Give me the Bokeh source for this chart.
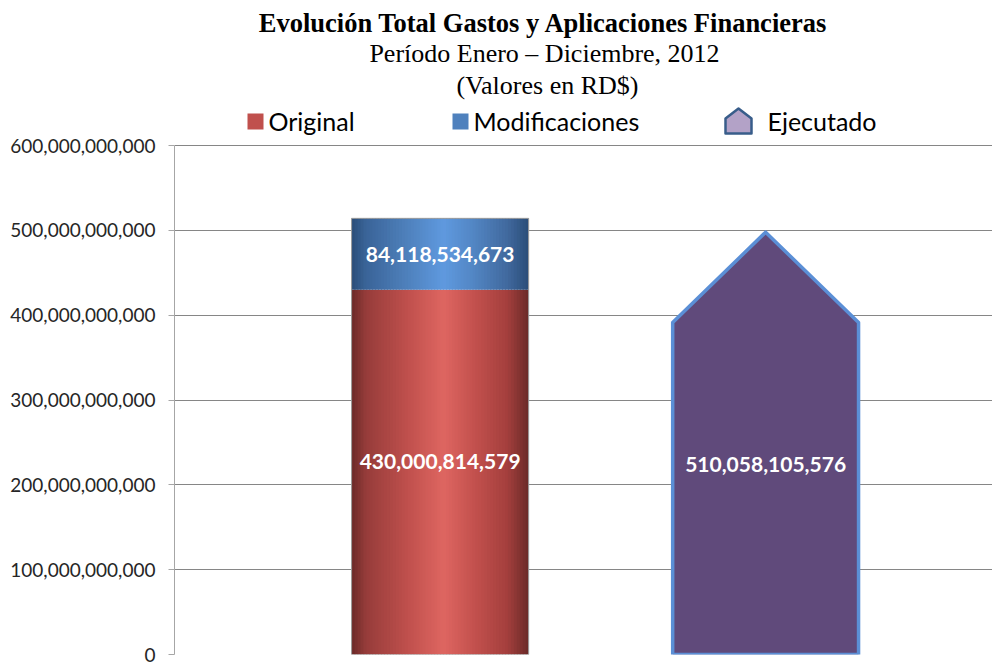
from bokeh.plotting import figure
from bokeh.models import Range1d, NumeralTickFormatter, FixedTicker, ColumnDataSource
from bokeh.core.properties import value
from bokeh.embed import file_html
from bokeh.resources import INLINE

# ---- data ----
categories = ["Presupuesto", "Ejecutado"]
original = [430000814579]
modificaciones = [84118534673]
ejecutado = [510058105576]
label_original = ["430,000,814,579"]
label_modif = ["84,118,534,673"]
label_ejec = ["510,058,105,576"]
y_ticks = [0, 100e9, 200e9, 300e9, 400e9, 500e9, 600e9]

title_lines = ["Evolución Total Gastos y Aplicaciones Financieras",
               "Período Enero – Diciembre, 2012",
               "(Valores en RD$)"]
legend_names = ["Original", "Modificaciones", "Ejecutado"]

# ---- helpers ----
def hex2rgb(h):
    h = h.lstrip("#")
    return tuple(int(h[i:i + 2], 16) for i in (0, 2, 4))

def rgb2hex(c):
    return "#%02x%02x%02x" % tuple(int(round(v)) for v in c)

def interp(stops, f):
    for (f0, c0), (f1, c1) in zip(stops[:-1], stops[1:]):
        if f0 <= f <= f1:
            t = (f - f0) / (f1 - f0) if f1 > f0 else 0
            a, b = hex2rgb(c0), hex2rgb(c1)
            return rgb2hex([a[i] + (b[i] - a[i]) * t for i in range(3)])
    return stops[-1][1]

red_stops = [(0.0, "#6a2928"), (0.08, "#963c3a"), (0.32, "#c0504d"), (0.52, "#de6661"),
             (0.68, "#c5524f"), (0.88, "#a43f3d"), (1.0, "#6a2928")]
blue_stops = [(0.0, "#2a4d78"), (0.08, "#3a6498"), (0.32, "#4f81bd"), (0.52, "#5f99df"),
              (0.68, "#5387c5"), (0.88, "#41699e"), (1.0, "#2a4d78")]

# ---- figure: frame spans the whole height, axis limited to 0..600B ----
FRAME_H = 654          # frame pixels (top border 0, bottom border 11)
AXIS_PX = 509          # pixels for 0..600B
y_top = y_ticks[-1] * FRAME_H / AXIS_PX

p = figure(width=992, height=665, x_range=Range1d(0.184, 2.697), y_range=Range1d(0, y_top),
           output_backend="svg", toolbar_location=None,
           min_border_left=174, min_border_right=0, min_border_top=0, min_border_bottom=11)
p.extra_x_ranges = {"px": Range1d(174, 992)}
p.extra_y_ranges = {"py": Range1d(FRAME_H, 0)}

p.xaxis.visible = False
p.xgrid.visible = False
p.yaxis.bounds = (y_ticks[0], y_ticks[-1])
p.yaxis.ticker = FixedTicker(ticks=y_ticks)
p.yaxis.formatter = NumeralTickFormatter(format="0,0")
p.yaxis.major_label_text_font = "Lato"
p.yaxis.major_label_text_font_size = "19px"
p.yaxis.major_label_text_color = "#262626"
p.yaxis.axis_line_color = "#a6a6a6"
p.yaxis.major_tick_line_color = "#a6a6a6"
p.yaxis.major_tick_out = 6
p.yaxis.major_tick_in = 0
p.yaxis.minor_tick_line_color = None
p.yaxis.major_label_standoff = 13
p.ygrid.grid_line_color = "#868686"
p.ygrid.ticker = FixedTicker(ticks=y_ticks)
p.outline_line_color = None

x1, x2 = 1.0, 2.0
w1, w2 = 0.544, 0.571
N = 60

def gradient_bar(xc, w, bottom, top, stops):
    lefts, rights, cols = [], [], []
    for i in range(N):
        f = (i + 0.5) / N
        lefts.append(xc - w / 2 + w * i / N)
        rights.append(xc - w / 2 + w * (i + 1) / N + (w / N * 0.3 if i < N - 1 else 0))
        cols.append(interp(stops, f))
    src = ColumnDataSource(dict(left=lefts, right=rights, bottom=[bottom] * N, top=[top] * N, c=cols))
    p.quad(left="left", right="right", bottom="bottom", top="top", fill_color="c",
           line_color=None, source=src)

o = original[0]
m = modificaciones[0]
e = ejecutado[0]
gradient_bar(x1, w1, 0, o, red_stops)
gradient_bar(x1, w1, o, o + m, blue_stops)
p.quad(left=[x1 - w1 / 2], right=[x1 + w1 / 2], bottom=[0], top=[o + m],
       fill_color=None, line_color="#9a9a9a", line_width=1)

# Ejecutado "house" shape
sh = e * 0.767
pk = e * 0.976
p.patch([x2 - w2 / 2, x2 - w2 / 2, x2, x2 + w2 / 2, x2 + w2 / 2],
        [0, sh, pk, sh, 0], fill_color="#604a7b", line_color="#5b8fd6",
        line_width=3.5, line_join="round")

lab_font = value("Lato")
p.text(x=[x1], y=[o + m / 2], text=label_modif, text_color="white", text_font=lab_font,
       text_font_size="21px", text_font_style="bold", text_align="center", text_baseline="middle")
p.text(x=[x1], y=[o * 0.528], text=label_original, text_color="white", text_font=lab_font,
       text_font_size="21px", text_font_style="bold", text_align="center", text_baseline="middle")
p.text(x=[x2], y=[e * 0.44], text=label_ejec, text_color="white", text_font=lab_font,
       text_font_size="21px", text_font_style="bold", text_align="center", text_baseline="middle")

# ---- title + legend (screen-like coordinates via extra ranges) ----
hdr = dict(x_range_name="px", y_range_name="py")
p.text(x=[543], y=[22], text=[title_lines[0]], text_font=value("Liberation Serif"),
       text_font_size="26.5px", text_font_style="bold", text_color="black",
       text_align="center", text_baseline="middle", **hdr)
p.text(x=[544, 547], y=[53, 85], text=title_lines[1:], text_font=value("Liberation Serif"),
       text_font_size="26px", text_color="black", text_align="center", text_baseline="middle", **hdr)

leg_font = value("Lato")
p.quad(left=[247], right=[263], bottom=[129], top=[113], fill_color="#c0504d", line_color=None, **hdr)
p.quad(left=[452], right=[468], bottom=[129], top=[113], fill_color="#4f81bd", line_color=None, **hdr)
p.patch([725, 725, 738, 751, 751], [133, 118, 108, 118, 133], fill_color="#b3a2c7",
        line_color="#385d8a", line_width=2.5, line_join="round", **hdr)
p.text(x=[268, 473, 767], y=[120, 120, 120], text=legend_names, text_font=leg_font,
       text_font_size="25px", text_color="black", text_align="left", text_baseline="alphabetic", **hdr)

open("out.html", "w").write(file_html(p, INLINE))
